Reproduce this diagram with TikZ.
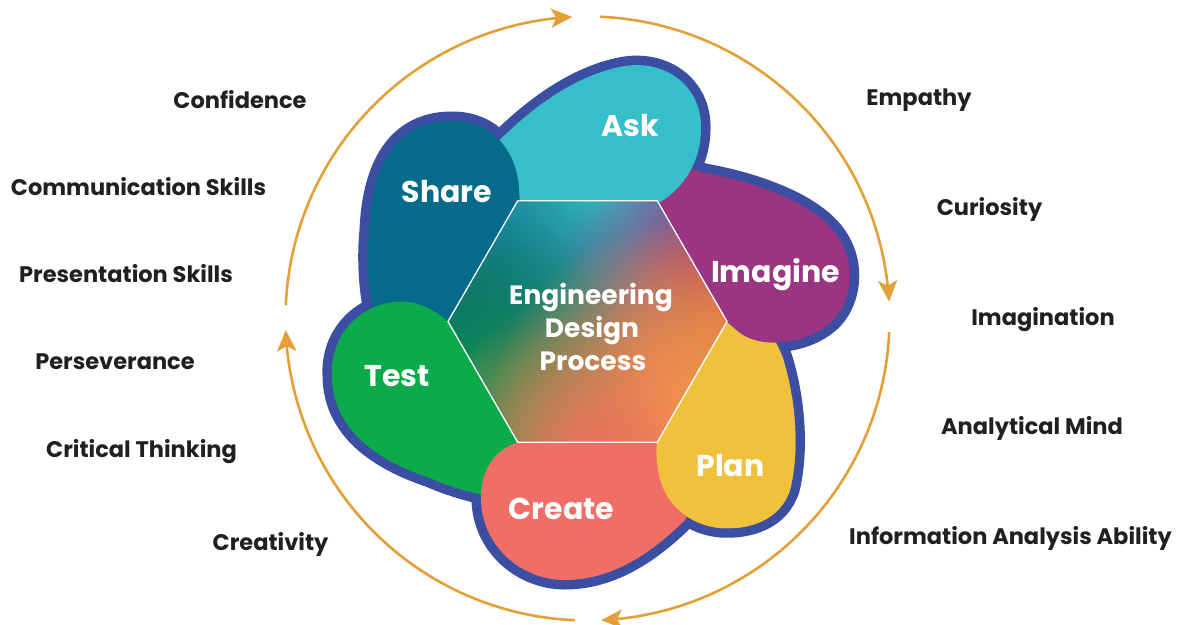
\documentclass[tikz,border=0pt]{standalone}
\usepackage{fontspec}
\setmainfont{Poppins}
\usetikzlibrary{arrows.meta,fadings}
\tikzfading[name=centrefade, inner color=transparent!0, outer color=transparent!100]
\definecolor{blueline}{HTML}{3B4EA2}
\definecolor{askc}{HTML}{36BEC9}
\definecolor{sharec}{HTML}{066A8B}
\definecolor{imaginec}{HTML}{993581}
\definecolor{planc}{HTML}{EFC13D}
\definecolor{createc}{HTML}{F06E67}
\definecolor{testc}{HTML}{0BAB4B}
\definecolor{arcc}{HTML}{E3A036}
\definecolor{txt}{HTML}{231F20}
\definecolor{hexbase}{HTML}{6A7266}
\definecolor{bcyan}{HTML}{2CC4CA}
\definecolor{bblue}{HTML}{1684B2}
\definecolor{bteal}{HTML}{0A6476}
\definecolor{bgreen}{HTML}{0A9150}
\definecolor{bolive}{HTML}{3E9E4C}
\definecolor{bsalmon}{HTML}{F36E5E}
\definecolor{borange}{HTML}{F9AA42}
\definecolor{bred}{HTML}{D6604C}
\definecolor{bmagenta}{HTML}{A63A7E}
\definecolor{bpurple}{HTML}{6E5CA8}
\newcommand{\pShare}{(378,330) .. controls (368,300) and (366,260) .. (369,230)
  .. controls (372,160) and (400,122) .. (450,121)
  .. controls (495,120) and (518,155) .. (519,190)
  -- (520,205) -- (530,222) -- (472,322) -- (440,345) -- (390,340) -- cycle}
\newcommand{\pAsk}{(490,150) .. controls (520,118) and (570,75) .. (625,66)
  .. controls (665,60) and (700,85) .. (701,125)
  .. controls (702,165) and (680,192) .. (655,205)
  -- (600,230) -- (500,230) -- cycle}
\newcommand{\pImagine}{(670,162) -- (705,173)
  .. controls (760,183) and (820,205) .. (840,240)
  .. controls (858,270) and (850,310) .. (825,327)
  .. controls (800,345) and (760,348) .. (740,333)
  -- (727,322) -- (680,280) -- (640,215) -- cycle}
\newcommand{\pPlan}{(765,325) .. controls (775,340) and (782,352) .. (785,365)
  .. controls (795,400) and (800,450) .. (790,490)
  .. controls (780,520) and (750,530) .. (720,528)
  .. controls (690,525) and (665,505) .. (659,475)
  .. controls (656,460) and (656,450) .. (657,442)
  -- (640,430) -- (700,330) -- (730,300) -- cycle}
\newcommand{\pCreate}{(518,442) .. controls (495,450) and (480,470) .. (481,500)
  .. controls (482,545) and (520,580) .. (565,580)
  .. controls (610,580) and (650,555) .. (685,520)
  -- (700,490) -- (680,430) -- (600,420) -- (530,420) -- cycle}
\newcommand{\pTest}{(448,322) .. controls (430,305) and (410,300) .. (395,302)
  .. controls (360,305) and (330,335) .. (332,375)
  .. controls (332,425) and (370,458) .. (430,478)
  .. controls (450,487) and (470,492) .. (490,497)
  -- (520,470) -- (540,430) -- (480,330) -- cycle}
\newcommand{\pHex}{(517.75,200.7) -- (657.25,200.7) -- (727,321.5) -- (657.25,442.3) -- (517.75,442.3) -- (448,321.5) -- cycle}
\tikzset{
  outline/.style={draw=blueline, line width=19pt, line join=round},
  arcline/.style={draw=arcc, line width=2.6pt, -{Stealth[length=21pt,width=19pt,inset=5pt]}},
  blob/.style={fill=#1, path fading=centrefade},
  side/.style={text=txt, font=\fontsize{22.5}{25}\selectfont\bfseries, anchor=base, inner sep=0pt},
  petal/.style={text=white, font=\fontsize{30}{32}\selectfont\bfseries, anchor=base, inner sep=0pt},
  core/.style={text=white, font=\fontsize{26.5}{28}\selectfont\bfseries, anchor=base, inner sep=0pt},
}
\begin{document}
\begin{tikzpicture}[x=1pt,y=-1pt]
\useasboundingbox (0,0) rectangle (1186,624);
\fill[white] (0,0) rectangle (1186,624);

% cycle arcs
\draw[arcline] plot[domain=177.5:92.9, samples=90] ({587.5+302*cos(\x)},{318.5-302*sin(\x)});
\draw[arcline] plot[domain=87.6:3.2, samples=90] ({587.5+302*cos(\x)},{318.5-302*sin(\x)});
\draw[arcline] plot[domain=-2.6:-87.4, samples=90] ({587.5+302*cos(\x)},{318.5-302*sin(\x)});
\draw[arcline] plot[domain=-92.4:-177.8, samples=90] ({587.5+302*cos(\x)},{318.5-302*sin(\x)});

% blue outline of the flower
\path[outline] \pShare;
\path[outline] \pAsk;
\path[outline] \pImagine;
\path[outline] \pPlan;
\path[outline] \pCreate;
\path[outline] \pTest;

% petals
\fill[planc] \pPlan;
\fill[imaginec] \pImagine;
\fill[askc] \pAsk;
\fill[sharec] \pShare;
\fill[testc] \pTest;
\fill[createc] \pCreate;
\begin{scope}
  \clip (640,395) rectangle (830,570);
  \fill[planc] \pPlan;
\end{scope}

% hexagon with blended colours
\begin{scope}
  \clip \pHex;
  \fill[hexbase] (440,195) rectangle (735,450);
  \path[blob=bblue] (500,238) circle[radius=150pt];
  \path[blob=bpurple] (660,212) circle[radius=140pt];
  \path[blob=bcyan] (590,196) circle[radius=185pt];
  \path[blob=bteal] (455,320) circle[radius=200pt];
  \path[blob=bgreen] (480,395) circle[radius=180pt];
  \path[blob=bolive] (525,446) circle[radius=120pt];
  \path[blob=bmagenta] (710,272) circle[radius=150pt];
  \path[blob=bred] (728,330) circle[radius=130pt];
  \path[blob=borange] (680,410) circle[radius=190pt];
  \path[blob=bsalmon] (598,458) circle[radius=170pt];
\end{scope}
\draw[white, line width=1.3pt, line join=miter] \pHex;

% centre title
\node[core] (eng) at (591,304) {Engineering};
\node[core] (des) at (592,337.5) {Design};
\node[core] (pro) at (593,370.5) {Process};

% petal labels
\node[petal] (ask) at (630,136) {Ask};
\node[petal] (share) at (447,202.5) {Share};
\node[petal] (imagine) at (775.5,282.5) {Imagine};
\node[petal] (test) at (397,386.5) {Test};
\node[petal] (plan) at (730.5,476.5) {Plan};
\node[petal] (create) at (561.5,519) {Create};

% qualities
\node[side] (confidence) at (240,108.5) {Confidence};
\node[side] (communication) at (138.5,195.5) {Communication Skills};
\node[side] (presentation) at (126,282.5) {Presentation Skills};
\node[side] (perseverance) at (115,369.5) {Perseverance};
\node[side] (critical) at (141.5,457) {Critical Thinking};
\node[side] (creativity) at (270.5,550.5) {Creativity};
\node[side] (empathy) at (919,105.5) {Empathy};
\node[side] (curiosity) at (989.5,215.5) {Curiosity};
\node[side] (imagination) at (1043,325.5) {Imagination};
\node[side] (analytical) at (1032,434.5) {Analytical Mind};
\node[side] (information) at (1010.5,544.5) {Information Analysis Ability};
\end{tikzpicture}
\end{document}
